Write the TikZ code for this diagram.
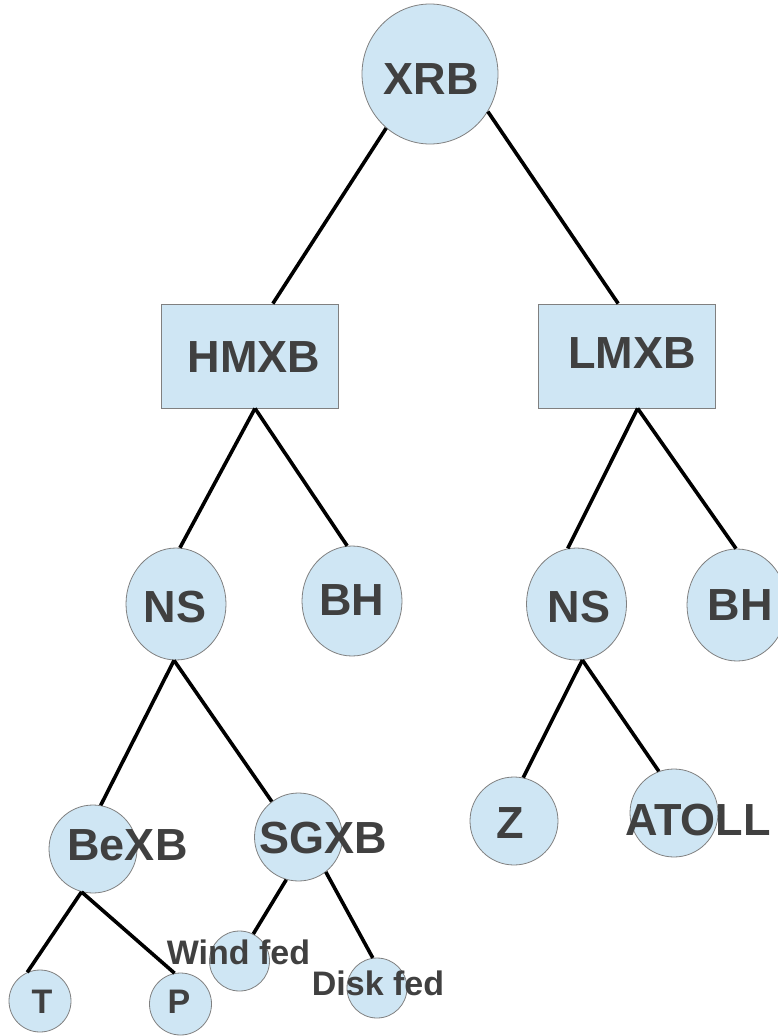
\documentclass[tikz,border=0pt]{standalone}
\usepackage{fontspec}
\setmainfont{Liberation Sans}
\usetikzlibrary{shapes.geometric}
\definecolor{nodeblue}{RGB}{207,230,244}
\definecolor{rimgray}{RGB}{128,128,128}
\definecolor{textgray}{RGB}{64,64,64}

\begin{document}
\begin{tikzpicture}[x=1pt,y=-1pt,inner sep=0pt]
\tikzstyle{main}=[circle, fill=nodeblue, draw=rimgray, line width=0.8pt]
\tikzstyle{oval}=[ellipse, fill=nodeblue, draw=rimgray, line width=0.8pt, minimum width=100pt, minimum height=112pt]
\tikzstyle{box}=[rectangle, fill=nodeblue, draw=rimgray, line width=0.8pt, minimum width=177pt, minimum height=104pt]
\tikzstyle{big}=[anchor=base, text=textgray, font=\fontsize{45}{45}\selectfont\bfseries]
\tikzstyle{small}=[anchor=base, text=textgray, font=\fontsize{34}{34}\selectfont\bfseries]
\tikzstyle{connect}=[line width=3.6pt, black]
\useasboundingbox (0,0) rectangle (778,1036);
% shapes
\node[oval, minimum width=136pt, minimum height=140pt] (xrb) at (430,74) {};
\node[box] (hmxb) at (249.5,356) {};
\node[box] (lmxb) at (626.5,356) {};
\node[oval] (ns1) at (176,604) {};
\node[oval, minimum height=110pt] (bh1) at (352,601) {};
\node[oval] (ns2) at (576.5,604) {};
\node[oval] (bh2) at (737,605) {};
\node[main, minimum size=88pt] (bexb) at (93,849) {};
\node[main, minimum size=88pt] (sgxb) at (298.5,837) {};
\node[main, minimum size=88pt] (z) at (514,821) {};
\node[main, minimum size=88pt] (atoll) at (674,813) {};
\node[main, minimum size=62pt] (t) at (40,1001) {};
\node[main, minimum size=62pt] (p) at (180.5,1004) {};
\node[main, minimum size=60pt] (wind) at (239.5,961) {};
\node[main, minimum size=60pt] (disk) at (377,988) {};
% labels
\node[big] (xrbtxt) at (431,94) {XRB};
\node[big] (hmxbtxt) at (254,372) {HMXB};
\node[big] (lmxbtxt) at (632,368) {LMXB};
\node[big] (ns1txt) at (175,622) {NS};
\node[big] (bh1txt) at (352,615) {BH};
\node[big] (ns2txt) at (579,622) {NS};
\node[big] (bh2txt) at (740,620) {BH};
\node[big] (ztxt) at (510,838) {Z};
\node[big] (atolltxt) at (698,835) {ATOLL};
\node[big] (bexbtxt) at (127.5,860) {BeXB};
\node[big] (sgxbtxt) at (323,853) {SGXB};
\node[small] (windtxt) at (238.5,964) {Wind fed};
\node[small] (disktxt) at (378,995) {Disk fed};
\node[small] (ttxt) at (42,1013) {T};
\node[small] (ptxt) at (179,1013) {P};
% links
\path (xrb.231) edge[connect] (hmxb.66) (xrb.327) edge[connect] (lmxb.99);
\path (hmxb.276) edge[connect] (ns1.86) edge[connect] (bh1.95);
\path (lmxb.282) edge[connect] (ns2.99) edge[connect] (bh2.91);
\path (ns1.268) edge[connect] (bexb.80) edge[connect] (sgxb.127);
\path (ns2.276) edge[connect] (z.78) edge[connect] (atoll.110);
\path (bexb.255) edge[connect] (t.114) edge[connect] (p.101);
\path (sgxb.254) edge[connect] (wind.63);
\path (sgxb.308) edge[connect] (disk.98);
\end{tikzpicture}
\end{document}
